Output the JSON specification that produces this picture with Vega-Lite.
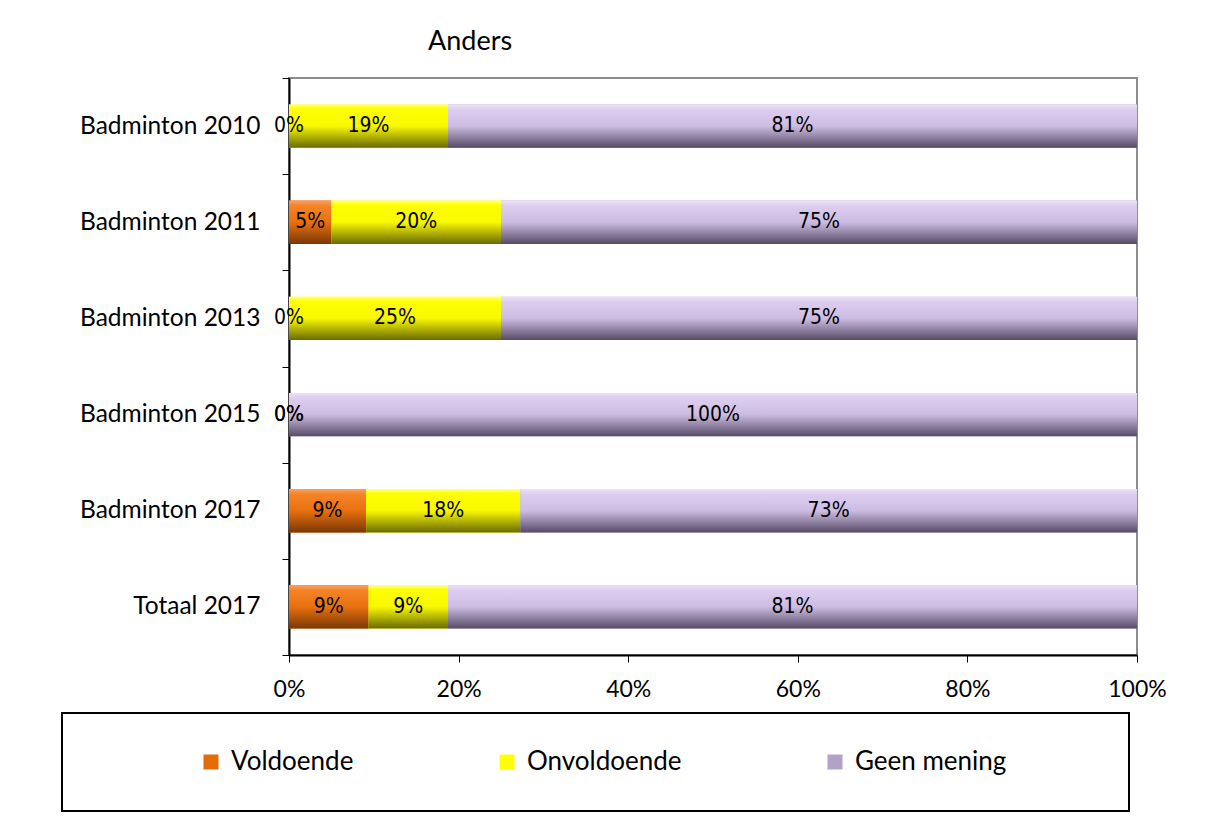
{
  "$schema": "https://vega.github.io/schema/vega-lite/v6.json",
  "width": 848,
  "height": 577,
  "autosize": "none",
  "padding": {"left": 289, "top": 78, "right": 69, "bottom": 177},
  "background": "white",
  "title": {"text": "Anders", "anchor": "start", "frame": "group", "dx": 139, "offset": 9, "font": "Lato", "fontSize": 27, "fontWeight": "normal", "color": "black"},
  "data": {"values": [
    {"cat": "Badminton 2010", "resp": "Voldoende", "k": 1, "value": 0},
    {"cat": "Badminton 2010", "resp": "Onvoldoende", "k": 2, "value": 0.1875},
    {"cat": "Badminton 2010", "resp": "Geen mening", "k": 3, "value": 0.8125},
    {"cat": "Badminton 2011", "resp": "Voldoende", "k": 1, "value": 0.05},
    {"cat": "Badminton 2011", "resp": "Onvoldoende", "k": 2, "value": 0.2},
    {"cat": "Badminton 2011", "resp": "Geen mening", "k": 3, "value": 0.75},
    {"cat": "Badminton 2013", "resp": "Voldoende", "k": 1, "value": 0},
    {"cat": "Badminton 2013", "resp": "Onvoldoende", "k": 2, "value": 0.25},
    {"cat": "Badminton 2013", "resp": "Geen mening", "k": 3, "value": 0.75},
    {"cat": "Badminton 2015", "resp": "Voldoende", "k": 1, "value": 0},
    {"cat": "Badminton 2015", "resp": "Onvoldoende", "k": 2, "value": 0},
    {"cat": "Badminton 2015", "resp": "Geen mening", "k": 3, "value": 1},
    {"cat": "Badminton 2017", "resp": "Voldoende", "k": 1, "value": 0.0909},
    {"cat": "Badminton 2017", "resp": "Onvoldoende", "k": 2, "value": 0.1818},
    {"cat": "Badminton 2017", "resp": "Geen mening", "k": 3, "value": 0.7273},
    {"cat": "Totaal 2017", "resp": "Voldoende", "k": 1, "value": 0.09375},
    {"cat": "Totaal 2017", "resp": "Onvoldoende", "k": 2, "value": 0.09375},
    {"cat": "Totaal 2017", "resp": "Geen mening", "k": 3, "value": 0.8125}
  ]},
  "transform": [
    {"stack": "value", "groupby": ["cat"], "sort": [{"field": "k", "order": "ascending"}], "as": ["x0", "x1"]},
    {"calculate": "(datum.x0 + datum.x1) / 2", "as": "mid"}
  ],
  "encoding": {
    "y": {
      "field": "cat", "type": "nominal", "sort": null,
      "scale": {"paddingInner": 0, "paddingOuter": 0},
      "axis": {"title": null, "domainColor": "black", "domainWidth": 2, "tickColor": "black", "tickSize": 7, "tickWidth": 1, "tickBand": "extent", "labelFont": "Lato", "labelFontSize": 24.5, "labelColor": "black", "labelPadding": 22, "labelLimit": 300}
    }
  },
  "layer": [
    {
      "mark": {"type": "bar", "height": {"band": 0.45}},
      "encoding": {
        "x": {
          "field": "x0", "type": "quantitative",
          "scale": {"domain": [0, 1], "nice": false},
          "axis": {"title": null, "format": "%", "values": [0, 0.2, 0.4, 0.6, 0.8, 1], "grid": false, "domainColor": "black", "domainWidth": 2, "tickColor": "black", "tickSize": 7, "labelFont": "Lato", "labelFontSize": 23, "labelColor": "black", "labelPadding": 16, "labelFlush": false}
        },
        "x2": {"field": "x1"},
        "color": {
          "field": "resp", "type": "nominal",
          "scale": {"domain": ["Voldoende", "Onvoldoende", "Geen mening"], "range": ["#E36C09", "#FFFF00", "#B3A2C7"]},
          "legend": {
            "orient": "none", "legendX": -227, "legendY": 635, "direction": "horizontal",
            "title": "\u00a0", "titleOrient": "left", "titlePadding": 100, "titleFontSize": 10,
            "padding": 36, "strokeColor": "black", "fillColor": "white",
            "symbolType": "square", "symbolSize": 225, "symbolStrokeWidth": 0, "symbolOpacity": 1,
            "labelFont": "Lato", "labelFontSize": 26, "labelColor": "black", "labelOffset": 7, "labelLimit": 800,
            "columnPadding": 140,
            "labelExpr": "datum.label == 'Geen mening' ? datum.label + '\u00a0\u00a0\u00a0\u00a0\u00a0\u00a0\u00a0\u00a0\u00a0\u00a0\u00a0\u00a0\u00a0\u200b' : datum.label"
          }
        }
      }
    },
    {
      "transform": [{"filter": "datum.resp == 'Voldoende'"}],
      "mark": {"type": "bar", "height": {"band": 0.45}, "fill": {"gradient": "linear", "x1": 0, "y1": 0, "x2": 0, "y2": 1, "stops": [
        {"offset": 0, "color": "#F7A060"}, {"offset": 0.12, "color": "#F58428"}, {"offset": 0.5, "color": "#E8700E"}, {"offset": 1, "color": "#7A3806"}]}},
      "encoding": {"x": {"field": "x0", "type": "quantitative"}, "x2": {"field": "x1"}}
    },
    {
      "transform": [{"filter": "datum.resp == 'Onvoldoende'"}],
      "mark": {"type": "bar", "height": {"band": 0.45}, "fill": {"gradient": "linear", "x1": 0, "y1": 0, "x2": 0, "y2": 1, "stops": [
        {"offset": 0, "color": "#FFFF90"}, {"offset": 0.1, "color": "#FFFF00"}, {"offset": 0.5, "color": "#F8F800"}, {"offset": 1, "color": "#6A6A00"}]}},
      "encoding": {"x": {"field": "x0", "type": "quantitative"}, "x2": {"field": "x1"}}
    },
    {
      "transform": [{"filter": "datum.resp == 'Geen mening'"}],
      "mark": {"type": "bar", "height": {"band": 0.45}, "fill": {"gradient": "linear", "x1": 0, "y1": 0, "x2": 0, "y2": 1, "stops": [
        {"offset": 0, "color": "#ECE2F8"}, {"offset": 0.12, "color": "#DCCDF0"}, {"offset": 0.5, "color": "#CDBCE2"}, {"offset": 1, "color": "#564B66"}]}},
      "encoding": {"x": {"field": "x0", "type": "quantitative"}, "x2": {"field": "x1"}}
    },
    {
      "mark": {"type": "text", "font": "Liberation Sans Narrow, Arial Narrow, DejaVu Sans Condensed, sans-serif", "fontSize": 21, "color": "black", "baseline": "middle", "align": "center"},
      "encoding": {
        "x": {"field": "mid", "type": "quantitative"},
        "text": {"field": "value", "type": "quantitative", "format": ".0%"}
      }
    }
  ],
  "config": {"view": {"stroke": "#8c8c8c", "strokeWidth": 2}, "legend": {"strokeWidth": 2}}
}
